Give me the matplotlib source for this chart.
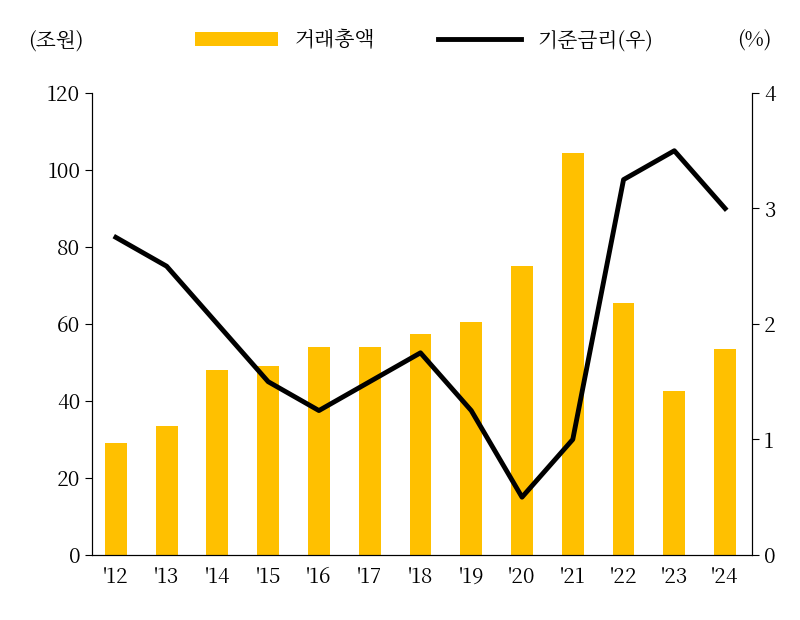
import matplotlib
matplotlib.use("Agg")
import matplotlib.pyplot as plt
from matplotlib import font_manager as fm

cands = [f.name for f in fm.fontManager.ttflist if "CJK" in f.name]
pref = [n for n in cands if "KR" in n] or cands
plt.rcParams["font.family"] = (pref[:1] if pref else []) + ["Noto Sans CJK KR", "DejaVu Sans"]

years = ["'12", "'13", "'14", "'15", "'16", "'17", "'18", "'19", "'20", "'21", "'22", "'23", "'24"]
volume = [29, 33.5, 48, 49, 54, 54, 57.5, 60.5, 75, 104.5, 65.5, 42.5, 53.5]
rate = [2.75, 2.5, 2.0, 1.5, 1.25, 1.5, 1.75, 1.25, 0.5, 1.0, 3.25, 3.5, 3.0]

fig = plt.figure(figsize=(8, 6.2), dpi=100)
ax = fig.add_axes([0.115, 0.105, 0.825, 0.745])
x = list(range(len(years)))
ax.bar(x, volume, width=0.43, color="#FFC000", label="거래총액", zorder=2)
ax.set_ylim(0, 120)
ax.set_yticks(range(0, 121, 20))
ax.set_xlim(-0.47, len(years) - 0.47)
ax.set_xticks(x)
ax.set_xticklabels(years)
ax.tick_params(axis="x", length=0, labelsize=15, pad=8)
ax.tick_params(axis="y", labelsize=15, direction="out", length=5)
ax.spines["top"].set_visible(False)

ax2 = ax.twinx()
ax2.plot(x, rate, color="black", lw=3.5, label="기준금리(우)", zorder=3)
ax2.set_ylim(0, 4)
ax2.set_yticks(range(0, 5))
ax2.tick_params(axis="y", labelsize=15, direction="out", length=5)
ax2.spines["top"].set_visible(False)

fig.text(0.035, 0.935, "(조원)", fontsize=15, ha="left", va="center")
fig.text(0.965, 0.935, "(%)", fontsize=15, ha="right", va="center")
h1, l1 = ax.get_legend_handles_labels()
h2, l2 = ax2.get_legend_handles_labels()
fig.legend(h1 + h2, l1 + l2, loc="center", bbox_to_anchor=(0.53, 0.935), ncol=2,
           frameon=False, fontsize=15, handlelength=4, columnspacing=3)

fig.savefig("out.png", dpi=100)
